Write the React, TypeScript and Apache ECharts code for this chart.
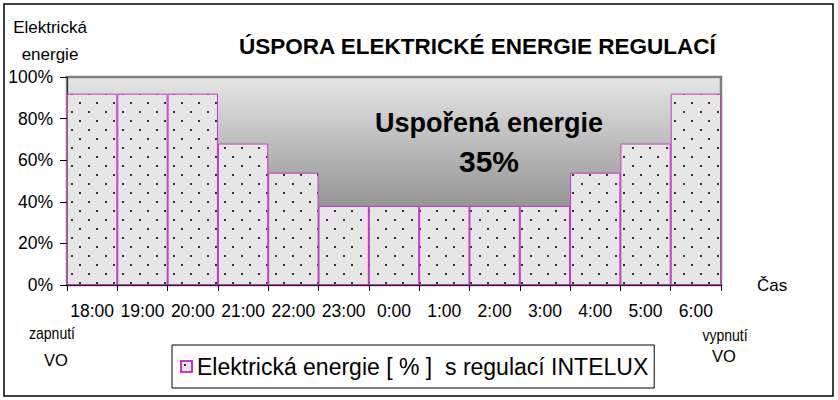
import React, { useEffect, useRef } from "react";
import * as echarts from "echarts";

const categories = ["18:00", "19:00", "20:00", "21:00", "22:00", "23:00", "0:00", "1:00", "2:00", "3:00", "4:00", "5:00", "6:00"];
const energyValues = [92, 92, 92, 68, 54, 38, 38, 38, 38, 38, 54, 68, 92];
const yTicks = [0, 20, 40, 60, 80, 100];
const seriesName = "Elektrická energie [ % ]  s regulací INTELUX";
const chartTitle = "ÚSPORA ELEKTRICKÉ ENERGIE REGULACÍ";
const yAxisTitle = "Elektrická\nenergie";
const xAxisTitle = "Čas";
const savingLabel = "Uspořená energie";
const savingValue = "35%";
const startLabel = ["zapnutí", "VO"];
const endLabel = ["vypnutí", "VO"];

const FONT = "'Liberation Sans', Arial, sans-serif";

function makeDotPattern() {
  const c = document.createElement("canvas");
  c.width = 17;
  c.height = 18;
  const ctx = c.getContext("2d")!;
  ctx.fillStyle = "#e6e6e6";
  ctx.fillRect(0, 0, 17, 18);
  ctx.fillStyle = "#333333";
  ctx.fillRect(3, 3, 2, 2);
  ctx.fillRect(11, 12, 2, 2);
  return c;
}

function label(text: string, x: number, y: number, size: number, scaleX = 1) {
  return {
    type: "text",
    x,
    y,
    scaleX,
    style: { text, fontFamily: FONT, fontSize: size, fill: "#000", align: "center", verticalAlign: "middle" },
  };
}

export default function App() {
  const ref = useRef<HTMLDivElement>(null);
  useEffect(() => {
    if (!ref.current) return;
    const chart = echarts.init(ref.current, null, { renderer: "svg" });
    const pattern: any = {
      image: makeDotPattern(),
      repeat: "repeat",
      imageWidth: 17,
      imageHeight: 18,
    };
    chart.setOption({
      animation: false,
      backgroundColor: "#ffffff",
      textStyle: { fontFamily: FONT },
      title: {
        text: chartTitle,
        left: 234,
        top: 30,
        textStyle: { fontFamily: FONT, fontSize: 22.5, fontWeight: "bold", color: "#000" },
      },
      grid: {
        left: 67,
        right: 117,
        top: 77,
        bottom: 115,
        show: true,
        borderColor: "#7f7f7f",
        borderWidth: 2.5,
        backgroundColor: new echarts.graphic.LinearGradient(0, 0, 0, 1, [
          { offset: 0, color: "#e6e6e6" },
          { offset: 0.62, color: "#959595" },
          { offset: 1, color: "#777777" },
        ]),
      },
      legend: {
        left: 172,
        top: 345,
        data: [seriesName],
        icon: "rect",
        itemWidth: 11,
        itemHeight: 11,
        itemGap: 6,
        padding: [10, 6, 10, 8],
        borderColor: "#000",
        borderWidth: 1,
        backgroundColor: "#fff",
        textStyle: { fontFamily: FONT, fontSize: 23, color: "#000" },
      },
      xAxis: {
        type: "category",
        data: categories,
        boundaryGap: true,
        name: xAxisTitle,
        nameLocation: "end",
        nameGap: 36,
        nameTextStyle: { fontFamily: FONT, fontSize: 17, color: "#000", padding: [0, 0, 6, 0] },
        axisLine: { show: true, lineStyle: { color: "#000", width: 1.5 } },
        axisTick: { show: true, length: 6, lineStyle: { color: "#000" } },
        axisLabel: { margin: 17, fontFamily: FONT, fontSize: 17.5, color: "#000", interval: 0 },
      },
      yAxis: {
        type: "value",
        min: yTicks[0],
        max: yTicks[yTicks.length - 1],
        interval: 20,
        axisLine: { show: true, lineStyle: { color: "#333", width: 1 } },
        axisTick: { show: true, length: 7, lineStyle: { color: "#000" } },
        splitLine: { show: false },
        axisLabel: { margin: 14, fontFamily: FONT, fontSize: 17.5, color: "#000", formatter: "{value}%" },
      },
      graphic: [
        {
          type: "rect",
          shape: { x: 4, y: 4, width: 829, height: 392 },
          style: { fill: "none", stroke: "#000", lineWidth: 1.5 },
          silent: true,
          z: -1,
        },
        {
          type: "text",
          x: 50,
          y: 14,
          style: { text: yAxisTitle, fontFamily: FONT, fontSize: 17, lineHeight: 27, fill: "#000", align: "center" },
        },
        {
          type: "text",
          x: 489,
          y: 123,
          style: { text: savingLabel, fontFamily: FONT, fontSize: 27, fontWeight: "bold", fill: "#000", align: "center", verticalAlign: "middle" },
          z: 10,
        },
        {
          type: "text",
          x: 489,
          y: 161,
          style: { text: savingValue, fontFamily: FONT, fontSize: 30, fontWeight: "bold", fill: "#000", align: "center", verticalAlign: "middle" },
          z: 10,
        },
        label(startLabel[0], 52, 333, 16.5, 0.85),
        label(startLabel[1], 56, 360, 16.5),
        label(endLabel[0], 725, 335, 16.5, 0.85),
        label(endLabel[1], 724, 356, 16.5),
      ],
      series: [
        {
          name: seriesName,
          type: "bar",
          data: energyValues,
          barCategoryGap: "0%",
          itemStyle: { color: pattern, borderColor: "#cc33cc", borderWidth: 1 },
        },
      ],
    });
    return () => chart.dispose();
  }, []);
  return <div ref={ref} style={{ position: "fixed", left: 0, top: 0, width: 838, height: 400 }} />;
}
